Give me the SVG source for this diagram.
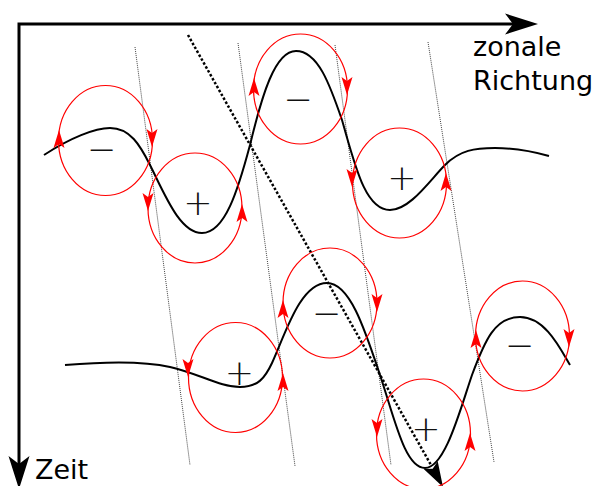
<svg xmlns="http://www.w3.org/2000/svg" xmlns:xlink="http://www.w3.org/1999/xlink" width="599" height="486" viewBox="0 0 599 486">
<style>
.label{font-family:"DejaVu Sans","Liberation Sans",sans-serif;font-size:27px;fill:#000}
.sign{font-family:"DejaVu Sans","Liberation Sans",sans-serif;font-size:35px;font-weight:200;fill:#111;text-anchor:middle}
.eddy{fill:none;stroke:#ff0000;stroke-width:1.2}
.wave{fill:none;stroke:#000;stroke-width:2}
.guide{fill:none;stroke:#444;stroke-width:1;stroke-dasharray:1 1}
.axis{fill:none;stroke:#000;stroke-width:3;stroke-linejoin:miter}
</style>
<defs>
<path id="ra" d="M0,-10 L5.5,8 L0,4 L-5.5,8 Z" fill="#ff0000"/>
</defs>
<rect width="599" height="486" fill="#fff"/>
<g id="axes">
<polyline class="axis" points="19,466 19,24 514,24"/>
<path d="M538,24 L505,13.5 L513,24 L505,34.5 Z" fill="#000"/>
<path d="M19,489 L8.5,456 L19,464 L29.5,456 Z" fill="#000"/>
<text class="label" x="473" y="56">zonale</text>
<text class="label" x="473" y="90">Richtung</text>
<text class="label" x="35" y="479">Zeit</text>
</g>
<g id="connectors">
<line class="guide" x1="135" y1="47" x2="190" y2="465"/>
<line class="guide" x1="238" y1="43" x2="295" y2="466"/>
<line class="guide" x1="335" y1="45" x2="391" y2="465"/>
<line class="guide" x1="428" y1="42" x2="494" y2="462"/>
<line x1="188" y1="35" x2="431" y2="465" stroke="#000" stroke-width="2.5" stroke-dasharray="2.5 2"/>
<path d="M443,487 L437.7,461.3 L432.7,468.7 L423.7,469.1 Z" fill="#000"/>
</g>
<g id="waves">
<path class="wave" d="M44,155 C70,138 95,128 110,128 C130,128 140,145 150,165 C165,195 180,233 202,233 C225,233 238,190 250,145 C262,95 275,51 296,51 C318,51 330,85 342,120 C355,165 365,210 390,210 C410,210 430,180 445,165 C460,150 475,148 495,148 C515,148 535,152 549,156"/>
<path class="wave" d="M65,365 C100,362 140,360 170,367 C200,374 220,387 240,387 C258,387 265,378 272,363 C285,335 300,283 327,283 C350,283 365,330 380,375 C395,420 405,468 425,468 C445,468 460,410 472,375 C485,340 495,317 520,317 C545,317 560,348 570,365"/>
</g>
<g id="eddy1">
<ellipse class="eddy" cx="105.5" cy="140.5" rx="47" ry="55"/>
<use xlink:href="#ra" transform="translate(59,140)"/>
<use xlink:href="#ra" transform="translate(152,137) rotate(180)"/>
<text class="sign" x="101.5" y="161">−</text>
</g>
<g id="eddy2">
<ellipse class="eddy" cx="195" cy="208" rx="47" ry="55"/>
<use xlink:href="#ra" transform="translate(148,201) rotate(180)"/>
<use xlink:href="#ra" transform="translate(242,214)"/>
<text class="sign" x="198" y="215.3">+</text>
</g>
<g id="eddy3">
<ellipse class="eddy" cx="300.5" cy="89" rx="47" ry="55"/>
<use xlink:href="#ra" transform="translate(254,88)"/>
<use xlink:href="#ra" transform="translate(347,85) rotate(180)"/>
<text class="sign" x="298" y="110.5">−</text>
</g>
<g id="eddy4">
<ellipse class="eddy" cx="399.5" cy="183" rx="47" ry="55"/>
<use xlink:href="#ra" transform="translate(352,177) rotate(180)"/>
<use xlink:href="#ra" transform="translate(446,183)"/>
<text class="sign" x="402" y="189.8">+</text>
</g>
<g id="eddy5">
<ellipse class="eddy" cx="235.5" cy="377.5" rx="47" ry="55"/>
<use xlink:href="#ra" transform="translate(188,367) rotate(180)"/>
<use xlink:href="#ra" transform="translate(283,383)"/>
<text class="sign" x="239.5" y="384.8">+</text>
</g>
<g id="eddy6">
<ellipse class="eddy" cx="330" cy="303" rx="47" ry="55"/>
<use xlink:href="#ra" transform="translate(283,310)"/>
<use xlink:href="#ra" transform="translate(377,302) rotate(180)"/>
<text class="sign" x="326.5" y="324.8">−</text>
</g>
<g id="eddy7">
<ellipse class="eddy" cx="423.5" cy="434" rx="47" ry="55"/>
<use xlink:href="#ra" transform="translate(377,427) rotate(180)"/>
<use xlink:href="#ra" transform="translate(470,443)"/>
<text class="sign" x="426" y="440.8">+</text>
</g>
<g id="eddy8">
<ellipse class="eddy" cx="522.5" cy="336" rx="47" ry="55"/>
<use xlink:href="#ra" transform="translate(476,340)"/>
<use xlink:href="#ra" transform="translate(569,337) rotate(180)"/>
<text class="sign" x="519.5" y="356.8">−</text>
</g>
</svg>
